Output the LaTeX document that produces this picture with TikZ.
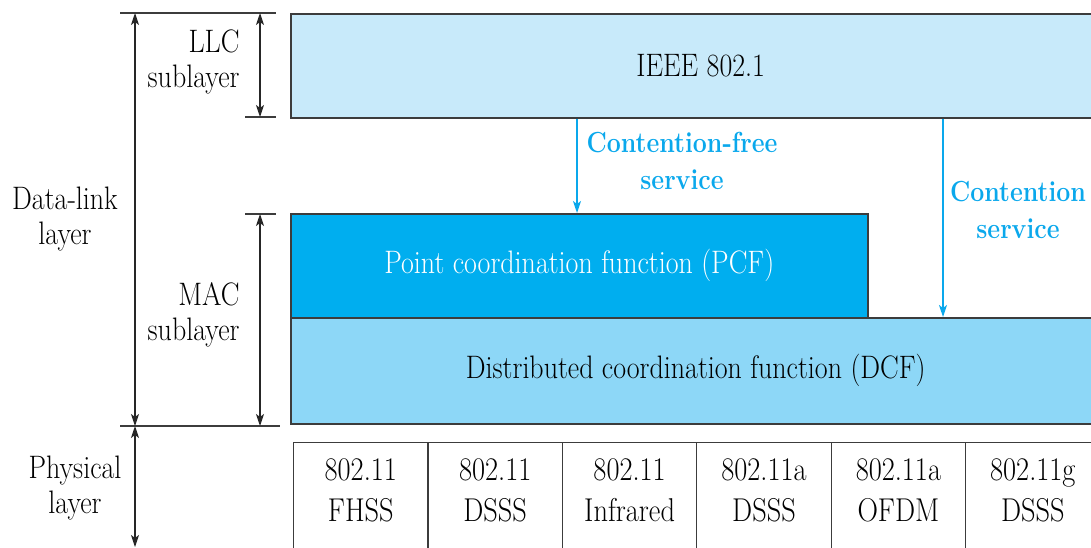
\documentclass[tikz,border=0pt]{standalone}
\usepackage{fontspec}
\setmainfont{Latin Modern Roman}[FakeStretch=0.86]
\usetikzlibrary{arrows.meta, positioning}
\definecolor{llcblue}{HTML}{C8EAFA}
\definecolor{pcfblue}{HTML}{00AEEF}
\definecolor{dcfblue}{HTML}{8DD7F7}
\definecolor{svcblue}{HTML}{0AA8EC}
\definecolor{edgegray}{HTML}{3C3C3C}
\tikzset{
  txt/.style={font=\fontsize{32.5}{35}\selectfont},
  layerbox/.style={txt, draw=edgegray, line width=1.5pt, anchor=north west, inner sep=0pt},
  phybox/.style={draw=edgegray, line width=1.2pt, anchor=north west, inner sep=0pt,
    minimum width=134.4pt, minimum height=114pt, align=center,
    font=\fontsize{33}{41}\selectfont},
  span/.style={{Stealth[length=12pt, width=8pt, inset=3pt]}-{Stealth[length=12pt, width=8pt, inset=3pt]},
    line width=1.1pt, black!85},
  tick/.style={line width=1.5pt, edgegray},
  svc/.style={-{Stealth[length=12pt, width=8pt, inset=3pt]}, line width=1.5pt, svcblue},
  svclabel/.style={svcblue, font=\bfseries\fontsize{29}{37}\selectfont, align=center},
  sidelabel/.style={txt, align=right, anchor=east},
  layerlabel/.style={txt, align=center},
}

\begin{document}
\begin{tikzpicture}[x=1pt, y=-1pt]
  \clip (0,0) rectangle (1091,547);

  % MAC and LLC boxes
  \node[layerbox, fill=llcblue, minimum width=820pt, minimum height=104pt] (llc) at (290,13) {IEEE 802.1};
  \node[layerbox, fill=pcfblue, text=white, minimum width=577pt, minimum height=104pt] (pcf) at (290,213) {Point coordination function (PCF)};
  \node[layerbox, fill=dcfblue, minimum width=810pt, minimum height=106pt] (dcf) at (290,317) {Distributed coordination function (DCF)};

  % physical layer boxes (open at the bottom edge)
  \foreach \std/\kind [count=\i] in {802.11/FHSS, 802.11/DSSS, 802.11/Infrared,
      802.11a/DSSS, 802.11a/OFDM, 802.11g/DSSS}
    \node[phybox] (phy\i) at ({293+(\i-1)*134.4},442) {\std\\\kind\rule[-20pt]{0pt}{20pt}};

  % services
  \coordinate (cfx) at (577,0);
  \coordinate (cx) at (943,0);
  \draw[svc] (llc.south -| cfx) -- (pcf.north -| cfx);
  \draw[svc] (llc.south -| cx) -- (dcf.north -| cx);
  \node[svclabel] (cflabel) at (682,161) {Contention-free\\service};
  \node[svclabel] (clabel) at (1018,210) {Contention\\service};

  % layer spans on the left
  \coordinate (top l) at (120,13);
  \coordinate (top r) at (276,13);
  \coordinate (llc l) at (245,117);
  \coordinate (llc r) at (276,117);
  \coordinate (mac l) at (245,214);
  \coordinate (mac r) at (276,214);
  \coordinate (bot l) at (120,426);
  \coordinate (bot r) at (280,426);
  \coordinate (phy end) at (135,547);
  \draw[tick] (top l) -- (top r);
  \draw[tick] (llc l) -- (llc r);
  \draw[tick] (mac l) -- (mac r);
  \draw[tick] (bot l) -- (bot r);
  \draw[span] (top l -| phy end) -- (bot l -| phy end);
  \draw[span] (bot l -| phy end) -- (phy end);
  \draw[span] (top r -| 260,0) -- (llc r -| 260,0);
  \draw[span] (mac r -| 260,0) -- (bot r -| 260,0);

  % layer names
  \node[sidelabel] (llcname) at (243,62) {LLC\\sublayer};
  \node[sidelabel] (macname) at (243,315) {MAC\\sublayer};
  \node[layerlabel] (dlname) at (65,219) {Data-link\\layer};
  \node[layerlabel] (phyname) at (75,488) {Physical\\layer};
\end{tikzpicture}
\end{document}
